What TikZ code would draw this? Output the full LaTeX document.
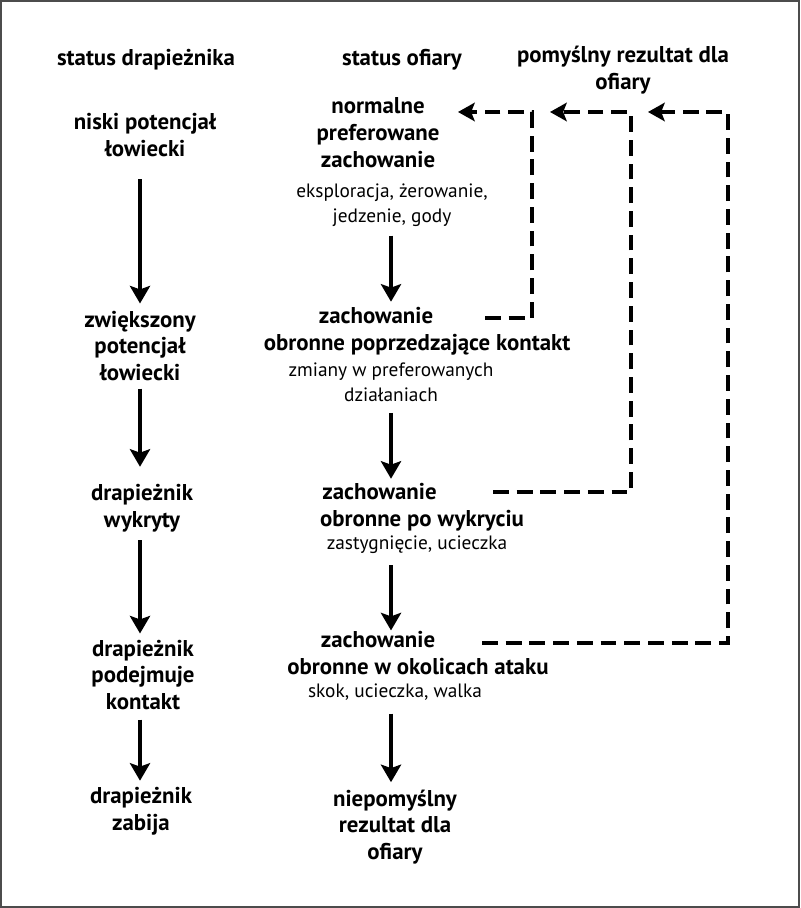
\documentclass[tikz,border=0pt]{standalone}
\usepackage{fontspec}
\setmainfont{PT Sans}
\usepackage{tikz}
\usetikzlibrary{positioning,arrows.meta,calc}

\begin{document}
\begin{tikzpicture}[
    x=0.02cm, y=-0.02cm,
    >=Stealth,
    every node/.style={align=center, inner sep=0pt},
    state/.style={font=\bfseries\fontsize{13}{15.3}\selectfont},
    note/.style={font=\fontsize{11}{14.2}\selectfont},
    flow/.style={
        -{Stealth[length=10pt, width=11.5pt, inset=2pt]},
        line width=2.3pt
    },
    back/.style={
        -{Stealth[length=9.5pt, width=10.5pt, inset=2pt]},
        line width=2.8pt,
        dash pattern=on 9pt off 4.5pt,
        line join=miter
    }
]

% Frame
\useasboundingbox (0,0) rectangle (800,908);
\draw[line width=1.1pt, black!70] (1,1) rectangle (799,907);

% Headers
\node[state] (predHead) at (146,60) {status drapieżnika};
\node[state] (preyHead) at (402,60) {status ofiary};
\node[state] (goodHead) at (623,70) {pomyślny rezultat dla\\ofiary};

% Predator column
\node[state] (predLow) at (145,135) {niski potencjał\\łowiecki};
\node[state] (predRaised) at (140,346) {zwiększony\\potencjał\\łowiecki};
\node[state] (predSeen) at (142,508) {drapieżnik\\wykryty};
\node[state] (predContact) at (143,675) {drapieżnik\\podejmuje\\kontakt};
\node[state] (predKill) at (141,811) {drapieżnik\\zabija};

% Prey column
\node[state] (preyNormal) at (378,133) {normalne\\preferowane\\zachowanie};
\node[note] (noteNormal) at (392,205) {eksploracja, żerowanie,\\jedzenie, gody};
\node[state] (preyPre) at (417,331) {zachowanie\hspace*{1.64cm}\\obronne poprzedzające kontakt};
\node[note] (notePre) at (391,382) {zmiany w preferowanych\\działaniach};
\node[state] (preySeen) at (422,507) {zachowanie\hspace*{1.7cm}\\obronne po wykryciu};
\node[note] (noteSeen) at (417,545) {zastygnięcie, ucieczka};
\node[state] (preyAttack) at (418,653) {zachowanie\hspace*{1.6cm}\\obronne w okolicach ataku};
\node[note] (noteAttack) at (395,692) {skok, ucieczka, walka};
\node[state] (preyBad) at (395,827) {niepomyślny\\rezultat dla\\ofiary};

% Escape routes
\coordinate (fbPre) at (485,318);
\coordinate (fbSeen) at (493,492);
\coordinate (fbAttack) at (482,643);
\coordinate (tipPre) at (458,112);
\coordinate (tipSeen) at (550,112);
\coordinate (tipAttack) at (648,112);

% Predator flow
\draw[flow, shorten <=0.44cm, shorten >=0.14cm] (predLow.south -| predRaised) -- (predRaised);
\draw[flow, shorten <=0.14cm, shorten >=0.34cm] (predRaised) -- (predRaised |- predSeen.north);
\draw[flow, shorten <=0.16cm, shorten >=0.12cm] (predSeen.south -| predRaised) -- (predRaised |- predContact.north);
\draw[flow, shorten <=0.18cm, shorten >=0.12cm] (predContact.south -| predRaised) -- (predRaised |- predKill.north);

% Prey flow
\draw[flow, shorten <=0.18cm, shorten >=0.1cm] (noteNormal.south -| notePre) -- (notePre |- preyPre.north);
\draw[flow, shorten <=0.22cm, shorten >=0.08cm] (notePre) -- (notePre |- preySeen.north);
\draw[flow, shorten <=0.22cm, shorten >=0.01cm] (noteSeen.south -| notePre) -- (notePre |- preyAttack.north);
\draw[flow, shorten <=0.26cm, shorten >=0.14cm] (noteAttack.south -| notePre) -- (notePre |- preyBad.north);

% Feedback to normal behaviour
\draw[back] (fbPre) -- ++(47,0) |- (tipPre);
\draw[back] (fbSeen) -- ++(138,0) |- (tipSeen);
\draw[back] (fbAttack) -- ++(246,0) |- (tipAttack);

\end{tikzpicture}
\end{document}
